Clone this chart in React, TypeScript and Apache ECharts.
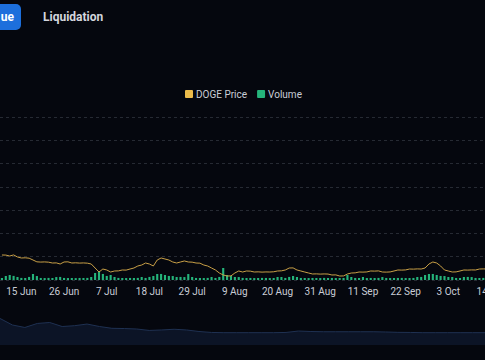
import React, { useEffect, useRef } from "react";
import * as echarts from "echarts";

// ---- Data ----
const START_DATE = Date.UTC(2024, 5, 10); // 10 Jun 2024
const DAY_COUNT = 127;
const MONTHS = ["Jan", "Feb", "Mar", "Apr", "May", "Jun", "Jul", "Aug", "Sep", "Oct", "Nov", "Dec"];
const dates: string[] = Array.from({ length: DAY_COUNT }, (_, i) => {
  const d = new Date(START_DATE + i * 86400000);
  return `${d.getUTCDate()} ${MONTHS[d.getUTCMonth()]}`;
});

// DOGE price (USD)
const dogePrice = [
  0.1444, 0.1442, 0.1418, 0.1446, 0.1393, 0.1367, 0.1372, 0.1362, 0.1315, 0.1268,
  0.1262, 0.1266, 0.1259, 0.1238, 0.1241, 0.1212, 0.1264, 0.1268, 0.1238, 0.1243,
  0.1236, 0.124, 0.1234, 0.1212, 0.1109, 0.1006, 0.1083, 0.1058, 0.1006, 0.1032,
  0.1035, 0.1058, 0.1055, 0.1083, 0.1109, 0.1161, 0.1186, 0.1238, 0.1212, 0.1161,
  0.1315, 0.1367, 0.1341, 0.1315, 0.1264, 0.1238, 0.1264, 0.129, 0.1264, 0.126,
  0.1238, 0.1234, 0.1186, 0.1161, 0.1109, 0.1058, 0.098, 0.0929, 0.0903, 0.0906,
  0.098, 0.1032, 0.1006, 0.1032, 0.1028, 0.1006, 0.101, 0.1003, 0.1008, 0.1006,
  0.1012, 0.1032, 0.1036, 0.1058, 0.1109, 0.1112, 0.1058, 0.1032, 0.1006, 0.098,
  0.0955, 0.0958, 0.0952, 0.0956, 0.0953, 0.0929, 0.0932, 0.0903, 0.0905, 0.0955,
  0.098, 0.0984, 0.1006, 0.1003, 0.1008, 0.1032, 0.1029, 0.1035, 0.1006, 0.1003,
  0.1008, 0.1032, 0.1058, 0.1055, 0.106, 0.1083, 0.108, 0.1086, 0.1083, 0.1109,
  0.1212, 0.1264, 0.1238, 0.1161, 0.1058, 0.1032, 0.1006, 0.1009, 0.1032, 0.1058,
  0.1055, 0.106, 0.1058, 0.1083, 0.1086, 0.1083, 0.108,
];

// Volume (billion USD)
const volume = [
  0.44, 0.86, 1.07, 0.88, 0.64, 0.45, 0.43, 0.66, 1.29, 0.85,
  0.44, 0.42, 0.45, 0.43, 0.63, 0.66, 0.44, 0.42, 0.43, 0.41,
  0.44, 0.43, 0.45, 0.65, 1.5, 1.93, 1.3, 0.87, 1.07, 0.64,
  0.45, 0.43, 0.42, 0.44, 0.43, 0.45, 0.64, 0.44, 0.66, 0.86,
  1.29, 1.3, 1.07, 0.87, 0.85, 0.64, 0.66, 0.63, 1.28, 0.65,
  0.44, 0.43, 0.42, 0.45, 0.64, 0.44, 0.66, 2.58, 1.07, 0.86,
  0.65, 0.63, 0.45, 0.43, 0.44, 0.42, 0.43, 0.45, 0.44, 0.42,
  0.43, 0.65, 0.64, 0.44, 0.66, 0.86, 0.64, 0.44, 0.43, 0.42,
  0.44, 0.43, 0.42, 0.45, 0.43, 0.44, 0.42, 0.43, 0.44, 1.07,
  0.65, 0.44, 0.43, 0.64, 0.42, 0.44, 0.43, 0.45, 0.63, 0.44,
  0.42, 0.43, 0.44, 0.45, 0.42, 0.43, 0.44, 0.64, 0.66, 1.07,
  1.29, 1.3, 1.08, 0.87, 0.85, 0.64, 0.65, 0.44, 0.43, 0.64,
  0.66, 0.63, 0.44, 0.43, 0.45, 0.44, 0.43,
];

// Navigator (full-history price shadow, USD)
const navigatorPrice = [
  0.224, 0.169, 0.148, 0.182, 0.19, 0.156, 0.163, 0.177, 0.156, 0.141,
  0.139, 0.135, 0.123, 0.127, 0.133, 0.127, 0.114, 0.106, 0.104, 0.104,
  0.104, 0.104, 0.104, 0.106, 0.118, 0.114, 0.112, 0.112, 0.112, 0.112,
  0.112, 0.11, 0.107, 0.106, 0.104, 0.104, 0.104, 0.104, 0.104, 0.104,
];
const navigatorSteps = navigatorPrice.map((_, i) => String(i));

const LABEL_FIRST = 5;
const LABEL_EVERY = 11;
const FONT = "Roboto, 'Liberation Sans', Arial, sans-serif";
const SQUARE_ICON = "path://M1,0 H7 Q8,0 8,1 V7 Q8,8 7,8 H1 Q0,8 0,7 V1 Q0,0 1,0 Z";

export default function App() {
  const ref = useRef<HTMLDivElement>(null);

  useEffect(() => {
    if (!ref.current) return;
    const chart = echarts.init(ref.current, undefined, { renderer: "svg" });
    chart.setOption({
      animation: false,
      backgroundColor: "#05070e",
      textStyle: { fontFamily: FONT },
      legend: {
        left: 180,
        top: 84,
        itemWidth: 8,
        itemHeight: 8,
        itemGap: 10,
        icon: SQUARE_ICON,
        textStyle: { color: "#c9cdd6", fontSize: 10, fontFamily: FONT, padding: [0, 0, 0, -2] },
        data: ["DOGE Price", "Volume"],
      },
      graphic: [
        {
          type: "rect",
          shape: { x: -45, y: 4, width: 66, height: 26, r: 5 },
          style: { fill: "#1d6fdc" },
        },
        {
          type: "text",
          x: 14,
          y: 17,
          style: {
            text: "ue",
            align: "right",
            verticalAlign: "middle",
            fill: "#ffffff",
            fontSize: 12,
            fontWeight: "bold",
            fontFamily: FONT,
          },
        },
        {
          type: "text",
          x: 43,
          y: 17,
          style: {
            text: "Liquidation",
            align: "left",
            verticalAlign: "middle",
            fill: "#d3d6dc",
            fontSize: 12,
            fontWeight: "bold",
            fontFamily: FONT,
          },
        },
      ],
      grid: [
        { left: 0, right: -8, top: 117, height: 163, outerBoundsMode: "none", containLabel: false },
        { left: 0, right: 0, top: 300, height: 45, outerBoundsMode: "none", containLabel: false },
      ],
      xAxis: [
        {
          type: "category",
          gridIndex: 0,
          data: dates,
          boundaryGap: true,
          axisLine: { show: false },
          axisTick: { show: false },
          axisLabel: {
            color: "#c9cdd6",
            fontSize: 10,
            margin: 6,
            fontFamily: FONT,
            interval: (index: number) => index >= LABEL_FIRST && (index - LABEL_FIRST) % LABEL_EVERY === 0,
          },
        },
        {
          type: "category",
          gridIndex: 1,
          data: navigatorSteps,
          boundaryGap: false,
          show: false,
        },
      ],
      yAxis: [
        {
          type: "value",
          gridIndex: 0,
          min: 0,
          max: 35,
          interval: 5,
          axisLabel: { show: false },
          axisLine: { show: false },
          axisTick: { show: false },
          splitLine: { show: true, lineStyle: { color: "#262a33", type: [3, 3], width: 1 } },
        },
        {
          type: "value",
          gridIndex: 0,
          min: 0.08,
          max: 0.5,
          axisLabel: { show: false },
          axisLine: { show: false },
          axisTick: { show: false },
          splitLine: { show: false },
        },
        {
          type: "value",
          gridIndex: 1,
          min: 0,
          max: 0.38,
          show: false,
          splitLine: { show: false },
        },
      ],
      series: [
        {
          name: "DOGE Price",
          type: "line",
          xAxisIndex: 0,
          yAxisIndex: 1,
          data: dogePrice,
          showSymbol: false,
          symbol: "none",
          itemStyle: { color: "#ebbb4b" },
          lineStyle: { color: "#c9a047", width: 1 },
          z: 3,
        },
        {
          name: "Volume",
          type: "bar",
          xAxisIndex: 0,
          yAxisIndex: 0,
          data: volume,
          barWidth: "55%",
          itemStyle: { color: "#25b47b" },
          z: 2,
        },
        {
          name: "navigator",
          type: "line",
          xAxisIndex: 1,
          yAxisIndex: 2,
          data: navigatorPrice,
          symbol: "none",
          silent: true,
          lineStyle: { color: "#1f3152", width: 1 },
          areaStyle: { color: "#0c1426", opacity: 1 },
        },
      ],
    });
    return () => chart.dispose();
  }, []);

  return (
    <div
      ref={ref}
      style={{ position: "fixed", left: 0, top: 0, width: 485, height: 360 }}
    />
  );
}
